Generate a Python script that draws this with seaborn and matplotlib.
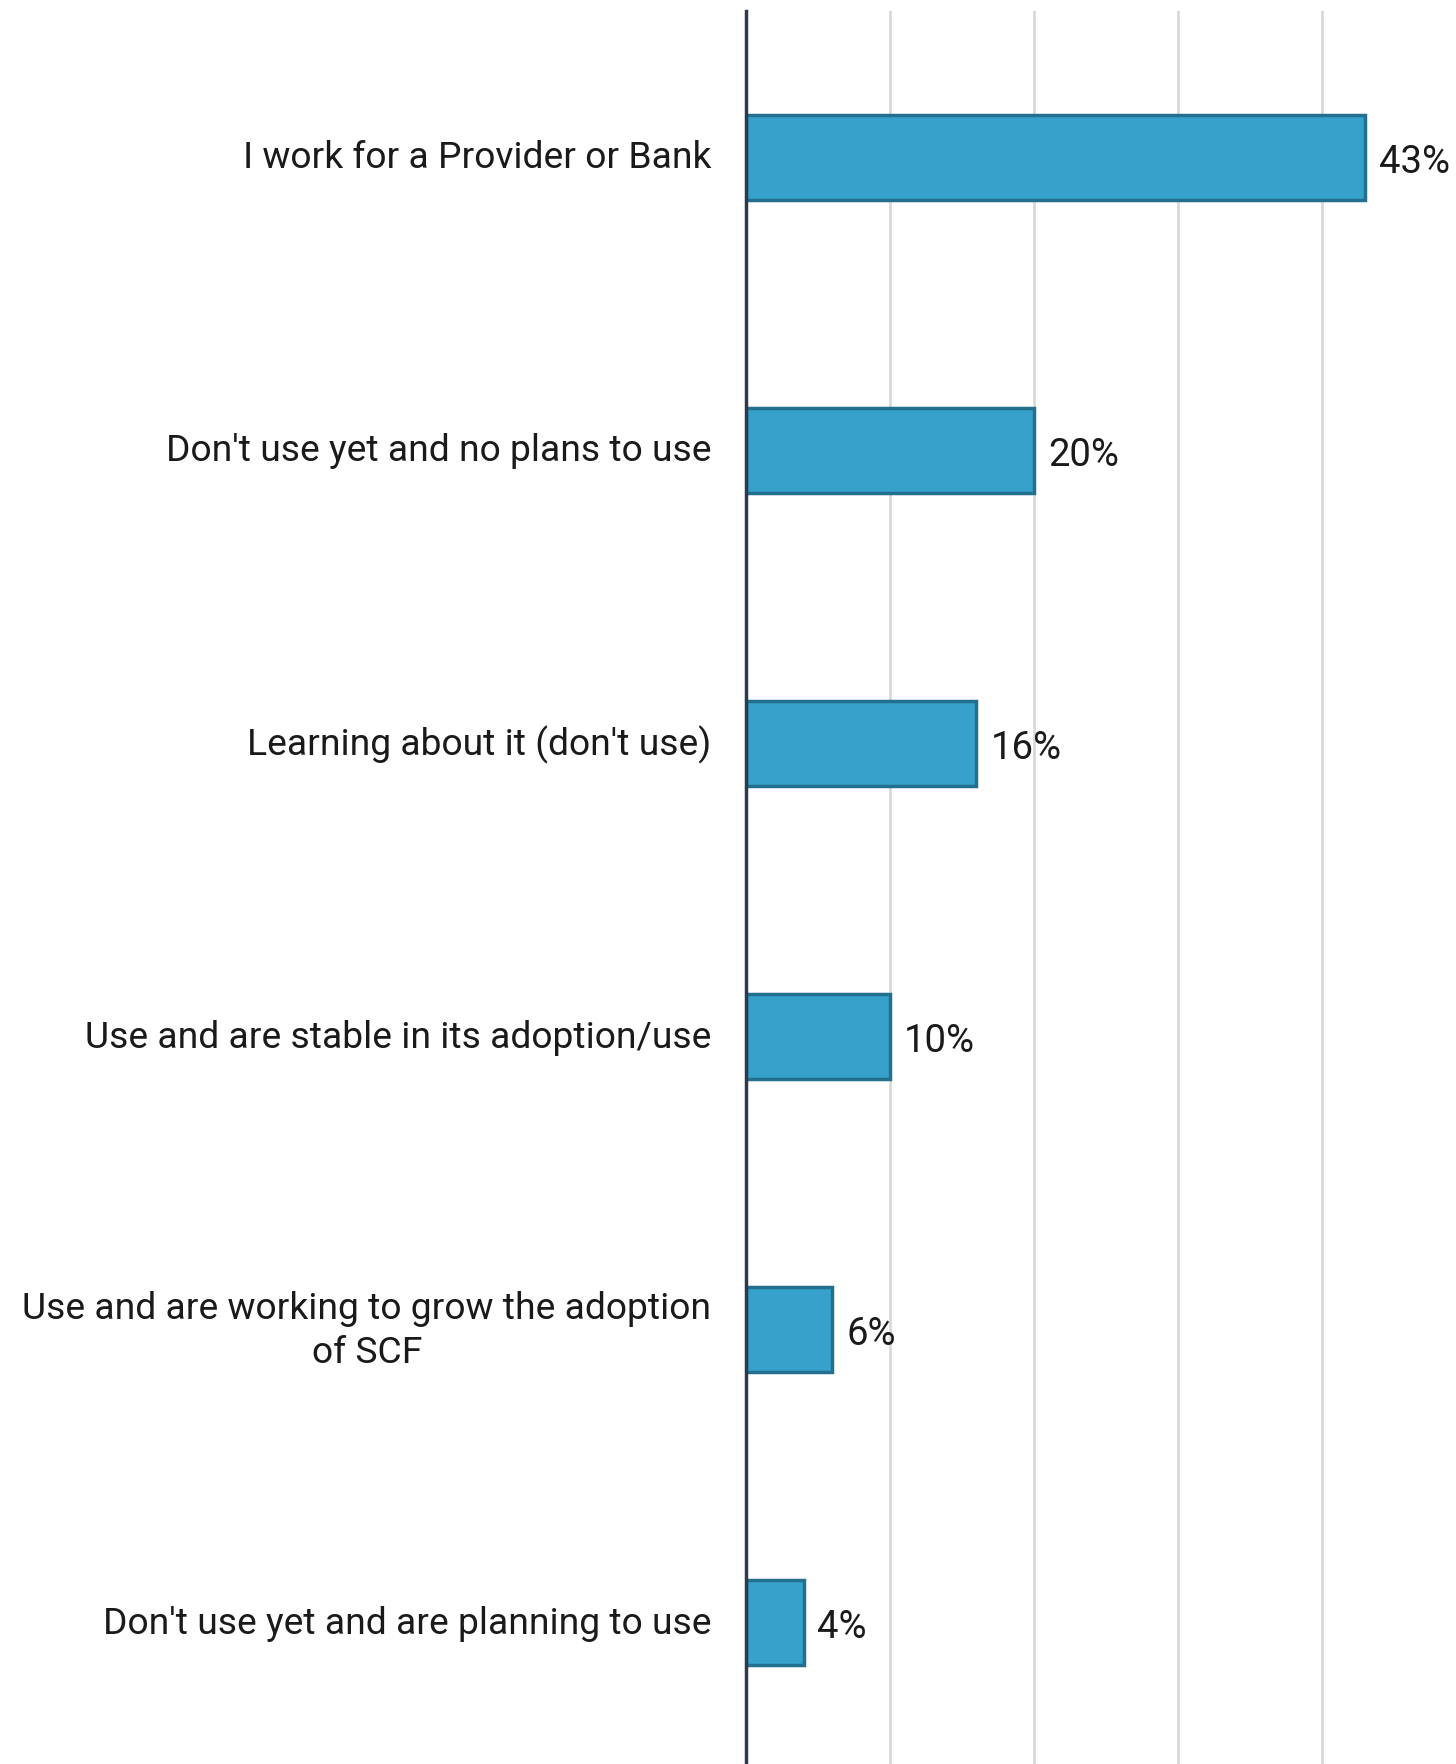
import matplotlib
matplotlib.use("Agg")
import matplotlib.pyplot as plt
import seaborn as sns
import pandas as pd

categories = [
    "I work for a Provider or Bank",
    "Don't use yet and no plans to use",
    "Learning about it (don't use)",
    "Use and are stable in its adoption/use",
    "Use and are working to grow the adoption\nof SCF",
    "Don't use yet and are planning to use",
]
values = [43, 20, 16, 10, 6, 4]
xticks = [0, 10, 20, 30, 40]

sns.set_theme(style="white")
plt.rcParams["font.family"] = ["Roboto", "DejaVu Sans"]

df = pd.DataFrame({"category": categories, "value": values})

W, H = 1456, 1765
fig = plt.figure(figsize=(W / 100, H / 100), dpi=100)
ax_left, ax_top, ax_bottom = 746, 11.6, 1770.4
ax = fig.add_axes([ax_left / W, (H - ax_bottom) / H,
                   1 - ax_left / W, (ax_bottom - ax_top) / H])

sns.barplot(data=df, x="value", y="category", orient="h", color="#36A2CB",
            saturation=1, width=0.29, edgecolor="#236F8E", linewidth=2.5,
            ax=ax, zorder=3)

ax.set_xlim(0, 49.3)
ax.set_ylim(5.5, -0.5)
ax.set_xticks(xticks)
ax.set_xticklabels([])
ax.tick_params(axis="x", length=0)
ax.tick_params(axis="y", length=0, pad=25, labelsize=26.8, labelcolor="#1a1a1a")
ax.grid(axis="x", color="#D9D9D9", linewidth=2, zorder=0)
ax.set_axisbelow(True)
ax.set_xlabel("")
ax.set_ylabel("")
for lab in ax.get_yticklabels():
    lab.set_multialignment("center")
    lab.set_linespacing(1.28)
    lab.set_verticalalignment("center")

for s in ["top", "right", "bottom"]:
    ax.spines[s].set_visible(False)
ax.spines["left"].set_color("#2B3A4E")
ax.spines["left"].set_linewidth(2.5)
ax.spines["left"].set_zorder(5)

for i, v in enumerate(values):
    ax.annotate(f"{v}%", xy=(v, i), xytext=(10, 0), textcoords="offset points",
                va="center_baseline", ha="left", fontsize=27.5, color="#1a1a1a")

fig.savefig("out.png", dpi=100, facecolor="white")
